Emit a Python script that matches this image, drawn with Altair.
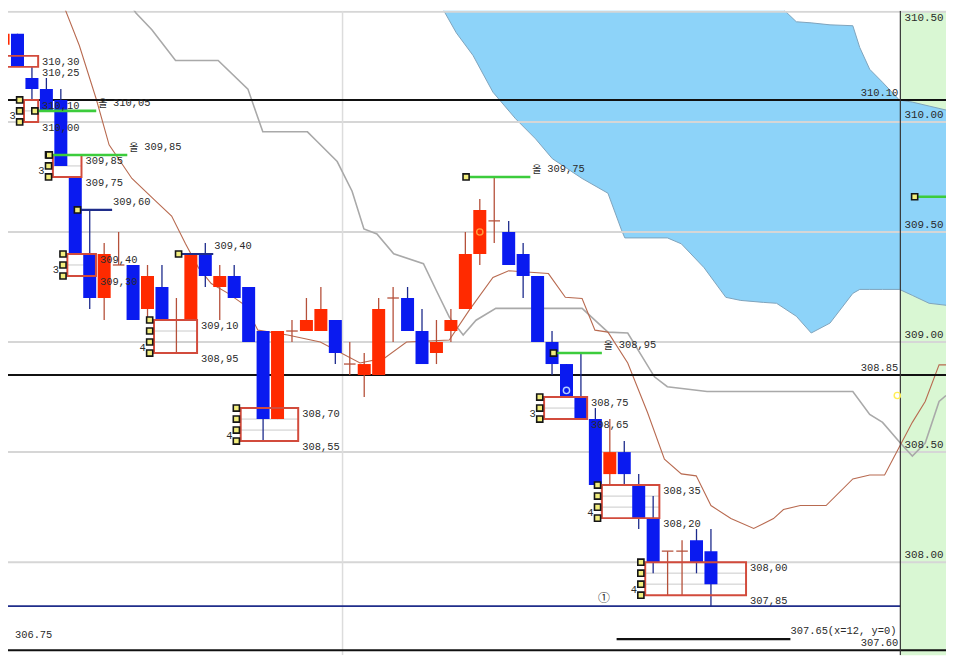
import altair as alt
import pandas as pd

# ---------------- data ----------------
opens = [310.35, 310.40, 310.20, 310.15, 310.10, 309.75, 309.40, 309.20, 309.35, 309.35,
         309.15, 309.25, 309.10, 309.10, 309.40, 309.25, 309.30, 309.25, 309.05, 308.65,
         309.05, 309.05, 309.05, 309.10, 308.90, 308.85, 308.85, 309.20, 309.20, 309.05,
         308.95, 309.05, 309.15, 309.40, 309.55, 309.50, 309.40, 309.30, 309.00, 308.90,
         308.75, 308.65, 308.40, 308.50, 308.35, 308.20, 308.05, 308.05, 308.10, 308.05]
highs = [310.45, 310.40, 310.25, 310.20, 310.15, 309.75, 309.60, 309.45, 309.50, 309.35,
         309.35, 309.35, 309.20, 309.40, 309.45, 309.35, 309.35, 309.25, 309.05, 309.05,
         309.10, 309.20, 309.25, 309.10, 309.00, 308.95, 309.20, 309.25, 309.25, 309.15,
         309.10, 309.15, 309.50, 309.65, 309.75, 309.55, 309.45, 309.30, 309.05, 308.90,
         308.95, 308.70, 308.65, 308.55, 308.40, 308.30, 308.05, 308.10, 308.15, 308.15]
lows = [310.30, 310.25, 310.10, 310.05, 309.80, 309.40, 309.15, 309.10, 309.35, 309.10,
        309.10, 309.10, 308.95, 309.10, 309.25, 309.10, 309.20, 309.00, 308.55, 308.65,
        309.00, 309.05, 309.05, 308.90, 308.85, 308.75, 308.85, 309.00, 309.05, 308.90,
        308.90, 309.00, 309.15, 309.35, 309.45, 309.35, 309.20, 309.00, 308.85, 308.75,
        308.65, 308.35, 308.35, 308.35, 308.15, 307.95, 307.85, 307.85, 307.95, 307.80]
closes = [310.40, 310.25, 310.15, 310.05, 309.80, 309.40, 309.20, 309.40, 309.35, 309.10,
          309.30, 309.10, 309.10, 309.40, 309.30, 309.30, 309.20, 309.00, 308.65, 309.05,
          309.05, 309.10, 309.15, 308.95, 308.90, 308.90, 309.15, 309.20, 309.05, 308.90,
          309.00, 309.10, 309.40, 309.60, 309.55, 309.35, 309.30, 309.00, 308.90, 308.75,
          308.65, 308.35, 308.50, 308.40, 308.20, 308.00, 308.05, 308.05, 308.00, 307.90]

# gray line
gray_i = [8.72, 9.20, 10.30, 11.94, 14.89, 16.95, 17.98, 21.07, 21.76, 23.13, 24.16, 24.98,
          25.88, 27.04, 29.10, 29.99, 30.89, 31.85, 32.74, 34.11, 40.08, 41.87, 43.24, 45.09,
          45.98, 48.73, 58.82, 59.99, 60.88, 62.11, 62.94, 63.83, 64.79, 65.27]
gray_v = [310.541, 310.495, 310.419, 310.279, 310.279, 310.149, 309.955, 309.955, 309.910,
          309.820, 309.685, 309.514, 309.491, 309.401, 309.356, 309.234, 309.113, 309.032,
          309.099, 309.153, 309.153, 309.045, 309.041, 308.842, 308.797, 308.775, 308.775,
          308.671, 308.635, 308.541, 308.482, 308.541, 308.730, 308.757]
# brown line
brown_i = [4.12, 5.28, 6.45, 7.34, 8.92, 10.57, 11.67, 12.63, 13.52, 14.41, 15.58, 16.75,
           17.64, 19.70, 21.96, 24.71, 26.42, 27.93, 30.89, 32.26, 33.91, 35.00, 37.75, 38.92,
           40.08, 40.97, 41.87, 43.24, 44.61, 45.78, 46.95, 47.98, 49.00, 50.38, 51.96, 53.33,
           54.02, 55.18, 56.97, 58.82, 59.99, 61.02, 62.11, 62.94, 63.83, 64.79, 65.27]
brown_v = [310.541, 310.347, 310.104, 309.896, 309.743, 309.640, 309.572, 309.446, 309.338,
           309.266, 309.221, 309.167, 309.054, 309.032, 309.000, 308.905, 308.928, 309.000,
           309.009, 309.144, 309.293, 309.324, 309.311, 309.203, 309.198, 309.054, 309.045,
           308.905, 308.680, 308.468, 308.401, 308.392, 308.257, 308.198, 308.153, 308.198,
           308.239, 308.257, 308.257, 308.378, 308.396, 308.396, 308.532, 308.635, 308.730,
           308.896, 308.896]
# cloud
cloud_i = [29.03, 30.20, 31.37, 32.53, 33.91, 35.48, 36.86, 38.02, 40.08, 41.87, 42.83, 43.04,
           45.99, 46.95, 48.52, 50.03, 51.06, 52.64, 53.54, 54.91, 55.94, 57.24, 58.82, 59.30,
           59.99, 60.88, 62.05, 62.94, 64.10, 65.27]
cloud_lo = [310.676, 310.541, 310.405, 310.302, 310.135, 310.014, 309.923, 309.833, 309.743,
            309.676, 309.505, 309.473, 309.473, 309.446, 309.338, 309.203, 309.189, 309.180,
            309.176, 309.117, 309.041, 309.086, 309.221, 309.239, 309.239, 309.239, 309.239,
            309.212, 309.176, 309.167]
cloud_hi = [311.0, 311.0, 311.0, 311.0, 311.0, 311.0, 311.0, 311.0, 311.0, 311.0, 311.0, 311.0,
            311.0, 311.0, 311.0, 311.0, 311.0, 311.0, 310.541, 310.455, 310.450, 310.441,
            310.437, 310.338, 310.239, 310.180, 310.099, 310.090, 310.072, 310.054]

# boxes
box_first = [0, 2, 4, 5, 11, 17, 38, 42, 45]
box_last = [2, 2, 5, 6, 13, 20, 40, 45, 51]
box_top = [310.30, 310.10, 309.85, 309.40, 309.10, 308.70, 308.75, 308.35, 308.00]
box_bot = [310.25, 310.00, 309.75, 309.30, 308.95, 308.55, 308.65, 308.20, 307.85]
box_marked = [False, True, True, True, True, True, True, True, True]

# green levels (last one: short segment inside the right panel, no label)
green_start = [2.2, 3.2, 32.05, 38.1, 63.1]
green_end = [6.45, 8.6, 36.5, 41.45, 66.0]
green_val = [310.05, 309.85, 309.75, 308.95, 309.66]
green_sym = ["올", "올", "올", "올"]
green_lab = ["310,05", "309,85", "309,75", "308,95"]
# navy levels
navy_start = [5.15, 12.15]
navy_end = [7.55, 14.55]
navy_val = [309.60, 309.40]
navy_lab = ["309,60", "309,40"]

# horizontal reference lines
hline_val = [310.10, 308.85, 307.60]
hline_lab = ["310.10", "308.85", "307.60"]
grid_val = [308.0, 308.5, 309.0, 309.5, 310.0, 310.5]
grid_lab = ["308.00", "308.50", "309.00", "309.50", "310.00", "310.50"]

# small circles
circ_i = [33.0, 39.0, 61.9]
circ_v = [309.50, 308.78, 308.757]
circ_col = ["#ff9a3c", "#b8d0ff", "#ffee55"]

# ---------------- styling ----------------
XS = alt.Scale(domain=[0.343, 65.27], nice=False, zero=False)
YS = alt.Scale(domain=[307.577, 310.505], nice=False, zero=False)
FONT = "Liberation Mono"
KFONT = "Noto Sans CJK KR"
FS = 10.5
TXT = "#2a2a2a"
RED, BLUE = "#ff2a00", "#0a1af0"
WICK_UP, WICK_DN = "#b5503a", "#1c2a8c"
PANEL_X = 62.11


def X(f):
    return alt.X(f"{f}:Q", scale=XS, axis=None)


def Y(f):
    return alt.Y(f"{f}:Q", scale=YS, axis=None)


layers = []

# green right panel
panel = pd.DataFrame({"x1": [PANEL_X], "x2": [66.0], "y1": [307.0], "y2": [311.0]})
layers.append(alt.Chart(panel).mark_rect(color="#d9f7d3", clip=True).encode(
    x=X("x1"), x2=alt.X2("x2"), y=Y("y1"), y2=alt.Y2("y2")))

# cloud
cl = pd.DataFrame({"i": cloud_i, "lo": cloud_lo, "hi": cloud_hi})
layers.append(alt.Chart(cl).mark_area(color="#8dd3f9", opacity=1, clip=True).encode(
    x=X("i"), y=Y("lo"), y2=alt.Y2("hi")))
layers.append(alt.Chart(cl).mark_line(color="#7fa3bb", strokeWidth=1, clip=True).encode(
    x=X("i"), y=Y("lo")))
layers.append(alt.Chart(cl).transform_filter("datum.i >= 53.5").mark_line(
    color="#7fa3bb", strokeWidth=1, clip=True).encode(x=X("i"), y=Y("hi")))

# gridlines
gdf = pd.DataFrame({"v": grid_val, "lab": grid_lab})
layers.append(alt.Chart(gdf).mark_rule(color="#d6d6d6", strokeWidth=2, clip=True).encode(y=Y("v")))
layers.append(alt.Chart(pd.DataFrame({"x": [23.5]})).mark_rule(
    color="#dcdcdc", strokeWidth=1.5, clip=True).encode(x=X("x")))

# gray and brown lines
layers.append(alt.Chart(pd.DataFrame({"i": gray_i, "v": gray_v})).mark_line(
    color="#a9a9a9", strokeWidth=1.6, clip=True).encode(x=X("i"), y=Y("v"), order="i:Q"))
layers.append(alt.Chart(pd.DataFrame({"i": brown_i, "v": brown_v})).mark_line(
    color="#b86a50", strokeWidth=1.1, clip=True).encode(x=X("i"), y=Y("v"), order="i:Q"))

# horizontal reference lines
hdf = pd.DataFrame({"v": hline_val, "lab": hline_lab})
layers.append(alt.Chart(hdf).mark_rule(color="#111111", strokeWidth=2, clip=True).encode(y=Y("v")))
navy_line = pd.DataFrame({"x1": [0.0], "x2": [PANEL_X], "v": [307.80]})
layers.append(alt.Chart(navy_line).mark_rule(color="#1f2d8a", strokeWidth=1.6, clip=True).encode(
    x=X("x1"), x2=alt.X2("x2"), y=Y("v")))
seg = pd.DataFrame({"x1": [42.47], "x2": [54.5], "v": [307.65]})
layers.append(alt.Chart(seg).mark_rule(color="#111111", strokeWidth=2.2, clip=True).encode(
    x=X("x1"), x2=alt.X2("x2"), y=Y("v")))
layers.append(alt.Chart(pd.DataFrame({"x": [PANEL_X]})).mark_rule(
    color="#333333", strokeWidth=1.2, clip=True).encode(x=X("x")))

# boxes
bdf = pd.DataFrame({"first": box_first, "last": box_last, "top": box_top, "bot": box_bot})
bdf["left"] = bdf["first"] - 0.55
bdf["right"] = bdf["last"] + 0.43
rows = []
marks = []
counts = []
for k in range(len(bdf)):
    n = int(round((box_top[k] - box_bot[k]) / 0.05)) + 1
    for j in range(1, n - 1):
        rows.append({"x1": bdf.left[k], "x2": bdf.right[k], "v": round(box_top[k] - 0.05 * j, 3)})
    if box_marked[k]:
        for j in range(n):
            marks.append({"i": bdf.left[k] - 0.3, "v": round(box_top[k] - 0.05 * j, 3)})
        counts.append({"i": bdf.left[k] - 0.3, "v": box_bot[k] + 0.025, "t": str(n)})
layers.append(alt.Chart(pd.DataFrame(rows)).mark_rule(color="#c9c9c9", strokeWidth=1, clip=True).encode(
    x=X("x1"), x2=alt.X2("x2"), y=Y("v")))

# candles
cdf = pd.DataFrame({"i": list(range(len(opens))), "o": opens, "h": highs, "l": lows, "c": closes})
cdf["doji"] = cdf["o"] == cdf["c"]
up = "datum.c >= datum.o"
layers.append(alt.Chart(cdf).mark_rule(strokeWidth=1.3, clip=True).encode(
    x=X("i"), y=Y("l"), y2=alt.Y2("h"),
    color=alt.condition(up, alt.value(WICK_UP), alt.value(WICK_DN))))
layers.append(alt.Chart(cdf[~cdf["doji"]]).transform_calculate(
    x1="datum.i - 0.45", x2="datum.i + 0.45").mark_rect(clip=True).encode(
    x=X("x1"), x2=alt.X2("x2"), y=Y("o"), y2=alt.Y2("c"),
    color=alt.condition(up, alt.value(RED), alt.value(BLUE))))
layers.append(alt.Chart(cdf[cdf["doji"]]).transform_calculate(
    x1="datum.i - 0.4", x2="datum.i + 0.4").mark_rule(color=WICK_UP, strokeWidth=1.3, clip=True).encode(
    x=X("x1"), x2=alt.X2("x2"), y=Y("o")))

# box outlines (over candles)
layers.append(alt.Chart(bdf).mark_rect(fill=None, stroke="#d24b3c", strokeWidth=2, clip=True).encode(
    x=X("left"), x2=alt.X2("right"), y=Y("top"), y2=alt.Y2("bot")))

# green & navy level lines
gl = pd.DataFrame({"x1": green_start, "x2": green_end, "v": green_val})
layers.append(alt.Chart(gl).mark_rule(color="#3ccc3c", strokeWidth=2.6, clip=True).encode(
    x=X("x1"), x2=alt.X2("x2"), y=Y("v")))
nl = pd.DataFrame({"x1": navy_start, "x2": navy_end, "v": navy_val})
layers.append(alt.Chart(nl).mark_rule(color="#1f2d8a", strokeWidth=2.2, clip=True).encode(
    x=X("x1"), x2=alt.X2("x2"), y=Y("v")))

# markers
for s, v in zip(green_start, green_val):
    marks.append({"i": s, "v": v})
for s, v in zip(navy_start, navy_val):
    marks.append({"i": s, "v": v})
layers.append(alt.Chart(pd.DataFrame(marks)).mark_point(
    shape="square", filled=True, fill="#f2ee7e", stroke="#151515", strokeWidth=1.6,
    size=38, opacity=1, clip=True).encode(x=X("i"), y=Y("v")))

# circles
cc = pd.DataFrame({"i": circ_i, "v": circ_v, "col": circ_col})
layers.append(alt.Chart(cc).mark_point(shape="circle", filled=False, size=40, strokeWidth=1.4,
                                       opacity=1, clip=True).encode(
    x=X("i"), y=Y("v"), color=alt.Color("col:N", scale=None)))

# ---------------- texts ----------------
def text_layer(df, font=FONT, **kw):
    return alt.Chart(df).mark_text(font=font, fontSize=kw.pop("fontSize", FS), color=TXT,
                                   clip=True, **kw).encode(x=X("i"), y=Y("v"), text="t:N")


blab = []
for k in range(len(bdf)):
    blab.append({"i": bdf.right[k], "v": box_top[k], "t": f"{box_top[k]:.2f}".replace(".", ",")})
    blab.append({"i": bdf.right[k], "v": box_bot[k], "t": f"{box_bot[k]:.2f}".replace(".", ",")})
layers.append(text_layer(pd.DataFrame(blab), align="left", baseline="top", dx=4, dy=1))
layers.append(text_layer(pd.DataFrame(counts), align="right", baseline="middle", dx=-4))

nlab = len(green_lab)
gsym = pd.DataFrame({"i": green_end[:nlab], "v": green_val[:nlab], "t": green_sym})
layers.append(text_layer(gsym, font=KFONT, align="left", baseline="bottom", dx=2, dy=-2, fontSize=10))
gtxt = pd.DataFrame({"i": green_end[:nlab], "v": green_val[:nlab], "t": green_lab})
layers.append(text_layer(gtxt, align="left", baseline="bottom", dx=17, dy=-3))
ntxt = pd.DataFrame({"i": navy_end, "v": navy_val, "t": navy_lab})
layers.append(text_layer(ntxt, align="left", baseline="bottom", dx=1, dy=-3))

hl = pd.DataFrame({"i": [61.96] * 3, "v": hline_val, "t": hline_lab})
layers.append(text_layer(hl, align="right", baseline="bottom", dy=-2))

al = pd.DataFrame({"i": [62.39] * 5, "v": grid_val[:5], "t": grid_lab[:5]})
layers.append(text_layer(al, align="left", baseline="bottom", dy=-2, fontSize=11))
al_top = pd.DataFrame({"i": [62.39], "v": [310.505], "t": [grid_lab[5]]})
layers.append(text_layer(al_top, align="left", baseline="top", dy=1, fontSize=11))

misc1 = pd.DataFrame({"i": [54.5], "v": [307.65], "t": ["307.65(x=12, y=0)"]})
layers.append(text_layer(misc1, align="left", baseline="bottom", dy=-3))
misc2 = pd.DataFrame({"i": [0.82], "v": [307.667], "t": ["306.75"]})
layers.append(text_layer(misc2, align="left", baseline="middle"))
misc3 = pd.DataFrame({"i": [41.6], "v": [307.838], "t": ["①"]})
layers.append(text_layer(misc3, font=KFONT, fontSize=12))

chart = alt.layer(*layers).properties(
    width=946, height=650, padding=0,
    autosize=alt.AutoSizeParams(type="none"),
    background="white",
).configure_view(stroke=None)

chart.save("out.html", embed_options={"renderer": "svg", "actions": False})
